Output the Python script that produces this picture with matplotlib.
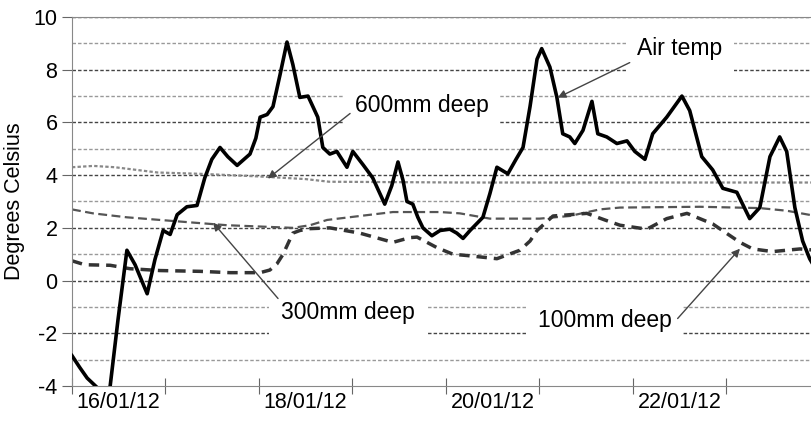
import matplotlib
matplotlib.use("Agg")
import matplotlib.pyplot as plt
import numpy as np

plt.rcParams['font.family'] = ['Liberation Sans', 'DejaVu Sans']
plt.rcParams['axes.unicode_minus'] = False

# hours since 16/01/12 00:00
air_h = [0, 2, 3.9, 6.4, 8.0, 9.8, 11.8, 14.1, 16.2, 19.3, 21.3, 23.4, 25.2, 27.0,
         29.5, 32.1, 34.1, 35.9, 38.0, 40.0, 42.4, 45.7, 47.2, 48.3, 50.1, 51.6,
         53.4, 55.2, 56.7, 58.5, 60.6, 63.1, 64.4, 66.2, 68.0, 70.6, 72.1, 74.7,
         77.2, 80.3, 82.1, 83.7, 85.0, 86.0, 87.5, 88.8, 90.1, 92.4, 94.5, 97.0,
         98.8, 100.4, 102.2, 105.5, 107.3, 109.1, 111.9, 114.0, 115.8, 117.6,
         119.4, 120.6, 122.7, 124.5, 126.0, 127.8, 129.1, 131.2, 133.5, 135.0,
         137.3, 139.9, 142.5, 144.5, 147.1, 149.1, 152.7, 156.6, 158.6, 161.7,
         164.5, 167.1, 170.7, 174.0, 176.6, 179.2, 181.7, 183.5, 185.6, 187.6,
         189.4, 190.7]
air_t = [-2.85, -3.3, -3.7, -4.05, -4.6, -4.0, -1.5, 1.15, 0.6, -0.5, 0.8, 1.9, 1.75, 2.5,
         2.8, 2.85, 3.9, 4.6, 5.05, 4.7, 4.37, 4.8, 5.4, 6.2, 6.3, 6.6,
         7.8, 9.05, 8.2, 6.95, 7.0, 6.2, 5.05, 4.8, 4.9, 4.3, 4.9, 4.4,
         3.9, 2.9, 3.6, 4.5, 3.8, 3.0, 2.9, 2.4, 2.0, 1.7, 1.9, 1.95,
         1.8, 1.6, 1.9, 2.4, 3.3, 4.3, 4.05, 4.6, 5.05, 6.6,
         8.4, 8.8, 8.1, 6.95, 5.57, 5.45, 5.2, 5.7, 6.8, 5.57,
         5.45, 5.2, 5.3, 4.9, 4.6, 5.57, 6.2, 7.0, 6.45, 4.7,
         4.2, 3.5, 3.35, 2.35, 2.77, 4.7, 5.45, 4.9, 2.77, 1.5,
         0.83, 0.5]

d600_h = [0, 5.5, 11, 22, 33, 48, 60, 66, 100, 150, 191]
d600_t = [4.3, 4.35, 4.3, 4.1, 4.05, 3.95, 3.85, 3.75, 3.72, 3.72, 3.72]

d300_h = [0, 5.4, 14.1, 22.6, 31.1, 39.8, 48.3, 56.7, 61.1, 65.5, 73.9, 82.4, 94.5,
          99.6, 107.3, 120.1, 127.8, 135.5, 140.7, 161.2, 176.6, 183.5, 191]
d300_t = [2.7, 2.55, 2.4, 2.3, 2.2, 2.1, 2.05, 2.0, 2.1, 2.3, 2.45, 2.6, 2.6,
          2.55, 2.35, 2.35, 2.45, 2.7, 2.77, 2.8, 2.75, 2.65, 2.45]

d100_h = [0, 3.3, 9.8, 14.9, 22.6, 32.9, 40.6, 48.3, 50.8, 52.6, 54.2, 56.7, 58.5,
          61.1, 66.2, 73.9, 82.4, 86.8, 88.6, 93.7, 97.8, 101.4, 109.1, 115.0,
          117.6, 119.4, 123.5, 132.2, 136.8, 140.7, 147.6, 152.7, 157.9, 164.5,
          171.5, 174.8, 179.9, 186.9, 191]
d100_t = [0.75, 0.6, 0.58, 0.45, 0.38, 0.35, 0.3, 0.3, 0.4, 0.63, 1.0, 1.8, 1.9,
          1.97, 2.0, 1.8, 1.45, 1.63, 1.65, 1.25, 1.0, 0.95, 0.83, 1.15,
          1.5, 1.9, 2.45, 2.55, 2.3, 2.1, 1.95, 2.35, 2.55, 2.15,
          1.45, 1.2, 1.1, 1.2, 1.15]

date_labels = ['16/01/12', '18/01/12', '20/01/12', '22/01/12']

fig = plt.figure(figsize=(8.12, 4.21), dpi=100)
ax = fig.add_axes([72/812, 1-386/421, 1-72/812, (386-17)/421])

# horizontal dashed grid
for v in range(-3, 11):
    col = '#444444' if v % 2 == 0 else '#999999'
    ax.axhline(v, color=col, lw=1, ls=(0, (2.5, 1.5)), zorder=0)

ax.plot(d600_h, d600_t, color='#888888', lw=1.6, ls=(0, (1.5, 1)), zorder=2)
ax.plot(d300_h, d300_t, color='#555555', lw=1.6, ls=(0, (4, 2)), zorder=2)
ax.plot(d100_h, d100_t, color='#333333', lw=2.5, ls=(0, (3, 2)), zorder=2)
ax.plot(air_h, air_t, color='black', lw=2.6, solid_joinstyle='round', zorder=3)

ax.set_xlim(0, 190)
ax.set_ylim(-4, 10)
ax.set_yticks(range(-4, 11, 2))
ax.set_xticks(np.arange(0, 191, 24))
ax.set_xticklabels([])
ax.set_xticks([12 + 48*i for i in range(len(date_labels))], minor=True)
ax.set_xticklabels(date_labels, minor=True)
ax.tick_params(axis='x', which='major', direction='inout', length=12, color='#666666')
ax.tick_params(axis='x', which='minor', length=0, labelsize=15.5, pad=4)
ax.tick_params(axis='y', direction='out', length=7, color='#666666', labelsize=15.5)
ax.set_ylabel('Degrees Celsius', fontsize=15.5, labelpad=6)

for s in ['left', 'bottom', 'top']:
    ax.spines[s].set_color('#888888')
ax.spines['right'].set_visible(False)

box = dict(boxstyle='square,pad=0.5', fc='white', ec='none')
arrow = dict(arrowstyle='-|>', color='#444444', lw=1, mutation_scale=12, shrinkA=0, shrinkB=0)

def label(txt, pos, start, end):
    ax.text(pos[0], pos[1], txt, fontsize=16.5, ha='center', va='center', bbox=box, zorder=4)
    ax.annotate('', xy=end, xytext=start, arrowprops=arrow, zorder=5)

label('Air temp', (156.1, 8.8), (143.2, 8.27), (124.7, 6.94))
label('600mm deep', (89.8, 6.64), (71.4, 6.34), (50.3, 3.87))
label('300mm deep', (70.8, -1.21), (52.9, -0.68), (36.2, 2.2))
label('100mm deep', (136.8, -1.52), (155.5, -1.44), (171.5, 1.21))

fig.savefig('out.png', dpi=100)
